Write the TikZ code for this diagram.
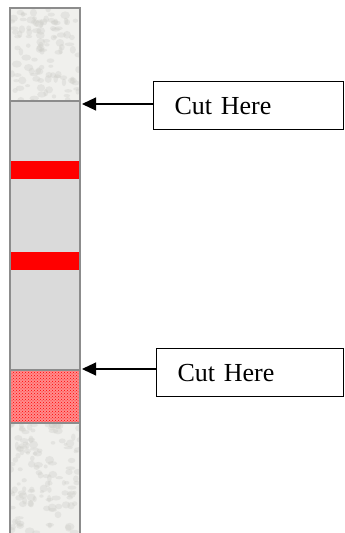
\documentclass[tikz,border=0pt]{standalone}
\usepackage{fontspec}
\setmainfont{Liberation Serif}
\usetikzlibrary{arrows.meta,patterns}
\definecolor{stripgray}{RGB}{218,218,218}
\definecolor{edgegray}{RGB}{140,140,140}
\definecolor{marble}{RGB}{240,240,237}
\definecolor{marbledark}{RGB}{205,205,200}
\tikzset{
  stripedge/.style={draw=edgegray, line width=1.5pt},
  cutbox/.style={draw=black, line width=1.2pt, minimum width=190pt, minimum height=48pt,
    text width=148pt, inner xsep=21pt, align=left, anchor=north west,
    font=\fontsize{26}{30}\selectfont},
  cutarrow/.style={line width=1.1pt, -{Triangle[length=14pt,width=13pt]}},
  band/.style={fill=red, draw=none},
  mottle/.style={fill=marbledark, fill opacity=0.35}
}
\begin{document}
\begin{tikzpicture}[x=1pt,y=-1pt]
\useasboundingbox (0,0) rectangle (345,533);
% sample pad (top) with marbled surface
\fill[marble] (10,8) rectangle (80,101);
\begin{scope}
  \clip (10,8) rectangle (80,101);
  \pgfmathsetseed{7}
  \foreach \i in {1,...,110}{
    \fill[mottle] (10+70*rnd,8+93*rnd) ellipse ({2+3*rnd} and {1.5+2.5*rnd});
  }
\end{scope}
% absorbent pad (bottom)
\fill[marble] (10,423) rectangle (80,533);
\begin{scope}
  \clip (10,423) rectangle (80,533);
  \pgfmathsetseed{11}
  \foreach \i in {1,...,130}{
    \fill[mottle] (10+70*rnd,423+110*rnd) ellipse ({2+3*rnd} and {1.5+2.5*rnd});
  }
\end{scope}
% membrane
\fill[stripgray] (10,101) rectangle (80,370);
\fill[band] (10,161) rectangle (80,179);
\fill[band] (10,252) rectangle (80,270);
% conjugate pad
\fill[red!45!white] (10,370) rectangle (80,423);
\fill[pattern=crosshatch dots, pattern color=red] (10,370) rectangle (80,423);
% outlines
\draw[stripedge] (10,8) rectangle (80,101);
\draw[stripedge] (10,101) rectangle (80,370);
\draw[stripedge] (10,370) rectangle (80,423);
\draw[stripedge] (10,533) -- (10,423) (80,423) -- (80,533);
% labels and arrows
\coordinate (tip1) at (82,104);
\coordinate (tip2) at (82,369);
\node[cutbox] (box1) at (153,81) {Cut Here};
\node[cutbox, minimum width=187pt, text width=145pt] (box2) at (156,348) {Cut Here};
\draw[cutarrow] (box1.west |- tip1) -- (tip1);
\draw[cutarrow] (box2.west |- tip2) -- (tip2);
\end{tikzpicture}
\end{document}
